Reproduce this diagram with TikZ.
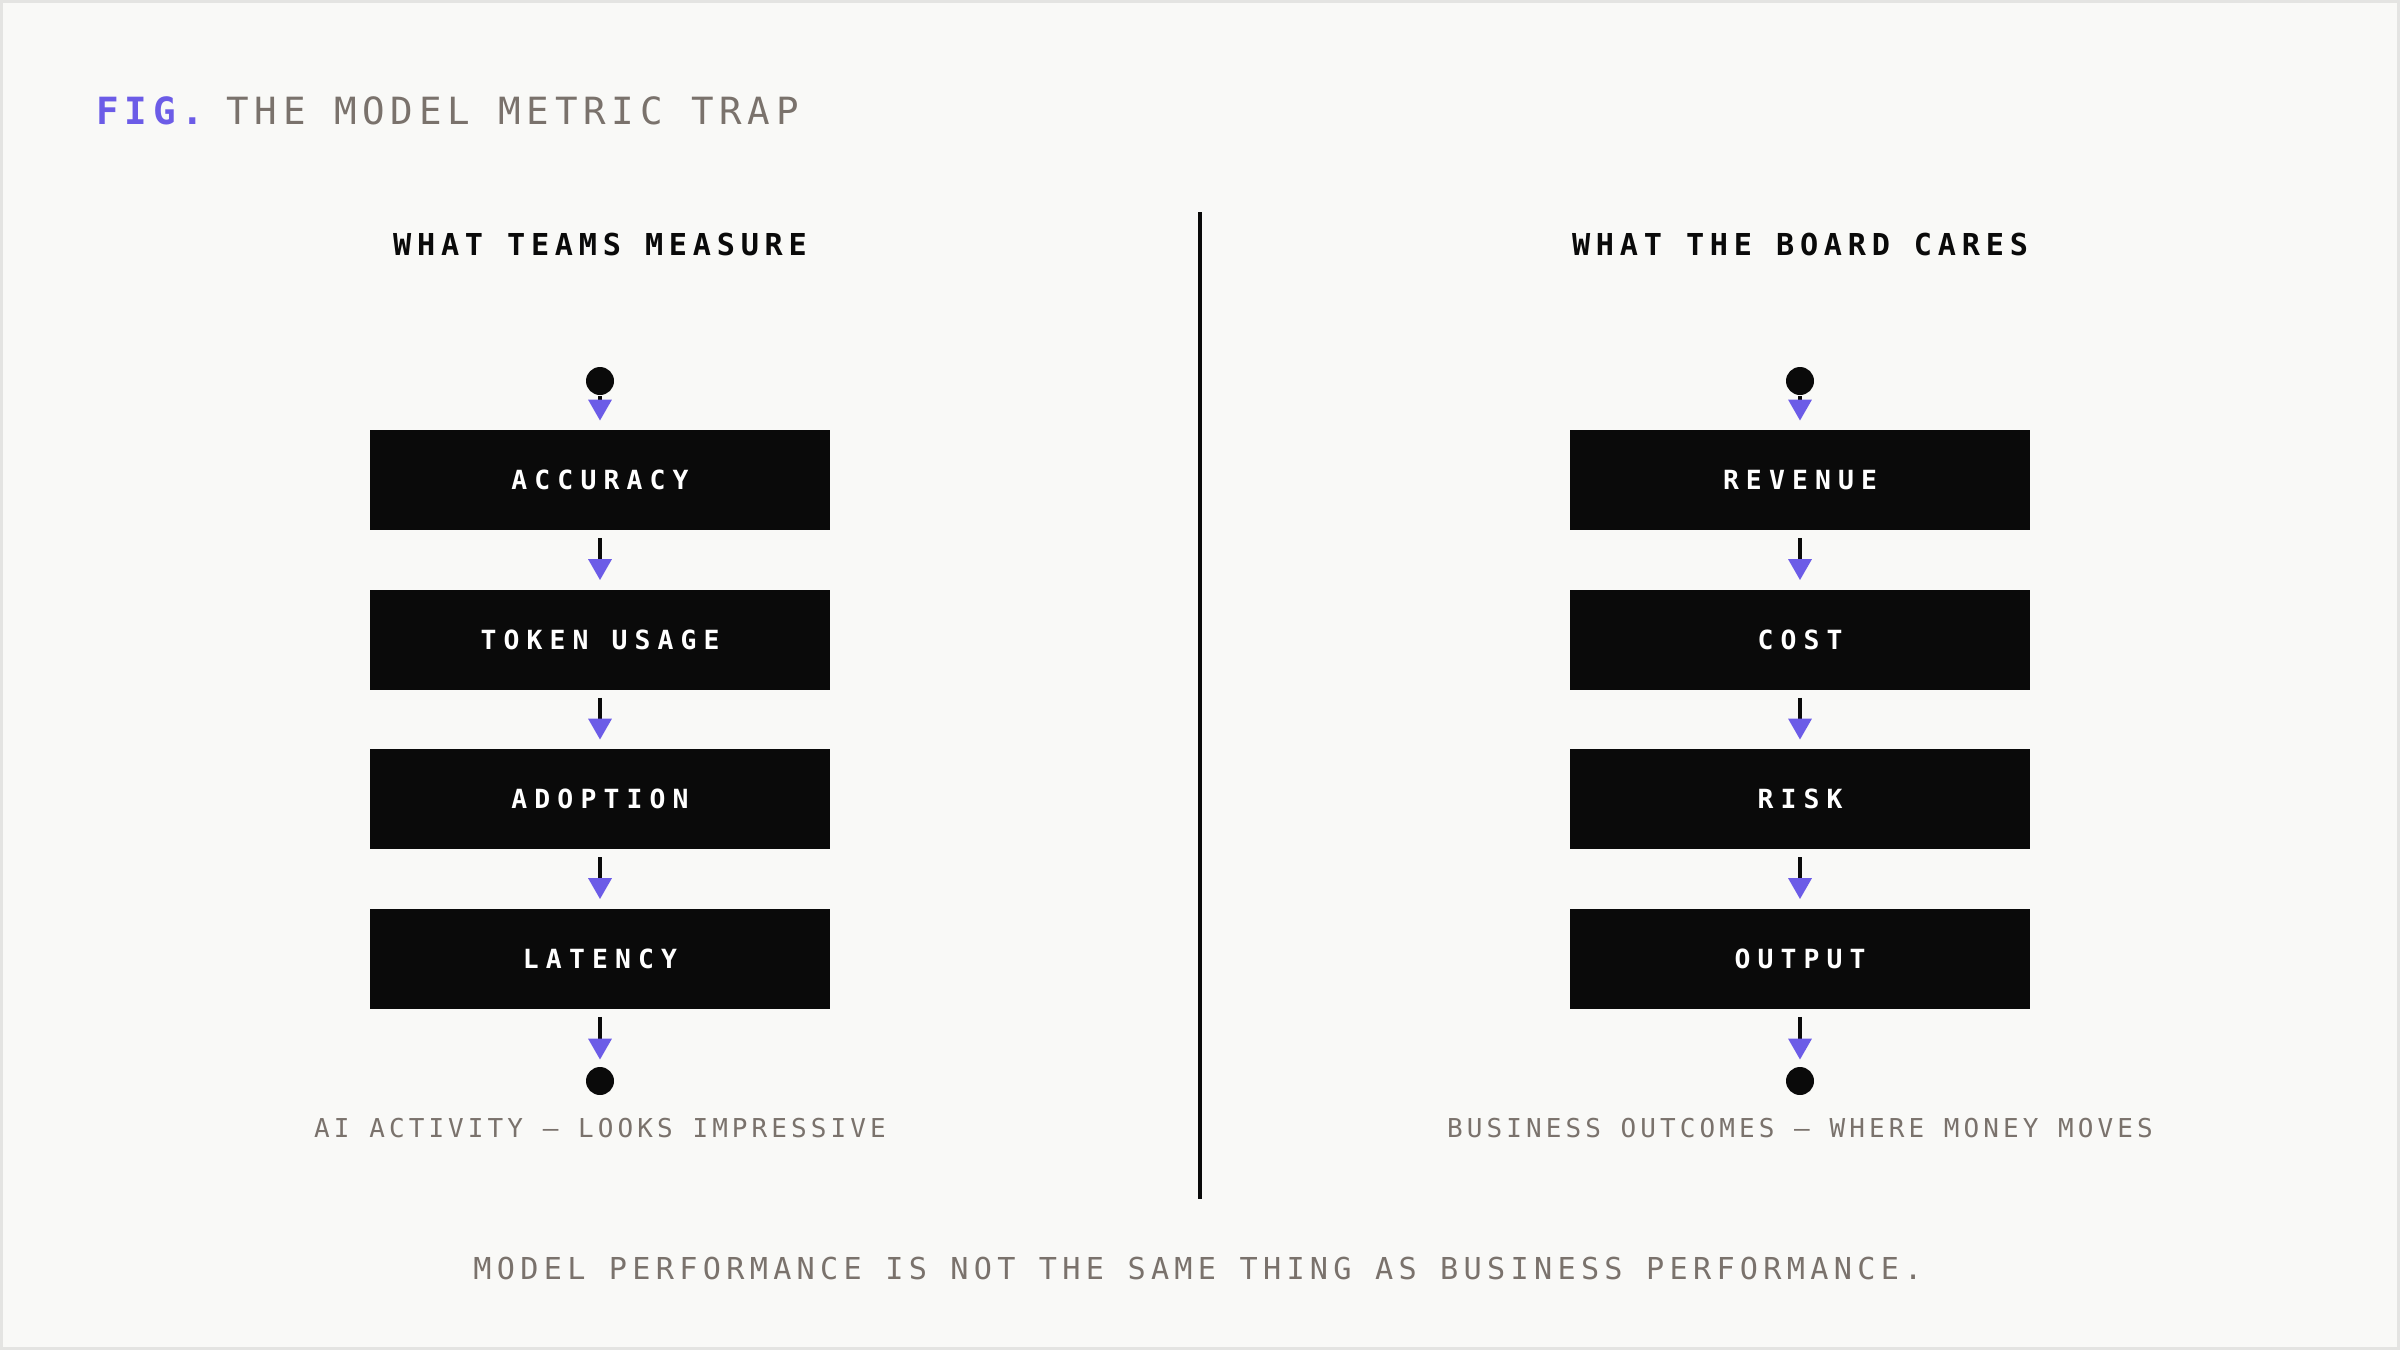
\documentclass[tikz,border=0pt]{standalone}
\usepackage{fontspec}
\usetikzlibrary{arrows.meta}
\newfontfamily\titlefont[LetterSpace=15.4]{DejaVu Sans Mono}
\newfontfamily\headfont[LetterSpace=19.1]{DejaVu Sans Mono}
\newfontfamily\labelfont[LetterSpace=27]{DejaVu Sans Mono}
\newfontfamily\footfont[LetterSpace=17.5]{DejaVu Sans Mono}
\newfontfamily\capfont[LetterSpace=15.7]{DejaVu Sans Mono}
\definecolor{bg}{HTML}{F9F9F7}
\definecolor{frame}{HTML}{E4E4E2}
\definecolor{ink}{HTML}{0A0A0A}
\definecolor{fig}{HTML}{6C5CE7}
\definecolor{mute}{HTML}{7A726C}
\tikzset{
  titletext/.style={anchor=base west, inner sep=0pt, font=\titlefont\fontsize{18.75}{20}\selectfont},
  headtext/.style={anchor=base, inner sep=0pt, text=ink, font=\headfont\bfseries\fontsize{15.1}{17}\selectfont},
  metric/.style={fill=ink, draw=none, minimum width=230pt, minimum height=50pt, inner sep=0pt, text=white, font=\labelfont\bfseries\fontsize{13.2}{15}\selectfont},
  dot/.style={circle, fill=ink, draw=none, minimum size=14pt, inner sep=0pt},
  captext/.style={anchor=base, inner sep=0pt, text=mute, font=\capfont\fontsize{13}{15}\selectfont},
  foottext/.style={anchor=base, inner sep=0pt, text=mute, font=\footfont\fontsize{15.1}{17}\selectfont},
  conn/.style={draw=ink, line width=1.75pt, -{Triangle[width=11.5pt,length=10.5pt,color=fig]}},
  divider/.style={draw=ink, line width=1.75pt}
}
\begin{document}
\begin{tikzpicture}[x=0.5pt,y=-0.5pt]
\fill[frame] (0,0) rectangle (2400,1350);
\fill[bg] (3,3) rectangle (2397,1347);
\useasboundingbox (0,0) rectangle (2400,1350);

% title
\node[titletext, text=fig, font=\titlefont\bfseries\fontsize{18.75}{20}\selectfont] (figlbl) at (96,124) {FIG.};
\node[titletext, text=mute] (title) at (226,124) {THE MODEL METRIC TRAP};

% headers
\node[headtext] (hl) at (600,255) {WHAT TEAMS MEASURE};
\node[headtext] (hr) at (1800,255) {WHAT THE BOARD CARES};

% divider
\coordinate (dtop) at (1200,212);
\coordinate (dbot) at (1200,1199);
\draw[divider] (dtop) -- (dbot);

% left column
\node[dot] (ls) at (600,381) {};
\node[metric] (l1) at (600,480) {ACCURACY};
\node[metric] (l2) at (600,639.5) {TOKEN USAGE};
\node[metric] (l3) at (600,799) {ADOPTION};
\node[metric] (l4) at (600,958.5) {LATENCY};
\node[dot] (le) at (600,1081) {};
\draw[conn, shorten <=0.5pt, shorten >=4.5pt] (ls) -- (l1);
\draw[conn, shorten <=4pt, shorten >=4.5pt] (l1) -- (l2);
\draw[conn, shorten <=4pt, shorten >=4.5pt] (l2) -- (l3);
\draw[conn, shorten <=4pt, shorten >=4.5pt] (l3) -- (l4);
\draw[conn, shorten <=4pt, shorten >=3.5pt] (l4) -- (le);
\node[captext] (lc) at (600,1137) {AI ACTIVITY — LOOKS IMPRESSIVE};

% right column
\node[dot] (rs) at (1800,381) {};
\node[metric] (r1) at (1800,480) {REVENUE};
\node[metric] (r2) at (1800,639.5) {COST};
\node[metric] (r3) at (1800,799) {RISK};
\node[metric] (r4) at (1800,958.5) {OUTPUT};
\node[dot] (re) at (1800,1081) {};
\draw[conn, shorten <=0.5pt, shorten >=4.5pt] (rs) -- (r1);
\draw[conn, shorten <=4pt, shorten >=4.5pt] (r1) -- (r2);
\draw[conn, shorten <=4pt, shorten >=4.5pt] (r2) -- (r3);
\draw[conn, shorten <=4pt, shorten >=4.5pt] (r3) -- (r4);
\draw[conn, shorten <=4pt, shorten >=3.5pt] (r4) -- (re);
\node[captext] (rc) at (1800,1137) {BUSINESS OUTCOMES — WHERE MONEY MOVES};

% footer
\node[foottext] (foot) at (1198,1279) {MODEL PERFORMANCE IS NOT THE SAME THING AS BUSINESS PERFORMANCE.};
\end{tikzpicture}
\end{document}
